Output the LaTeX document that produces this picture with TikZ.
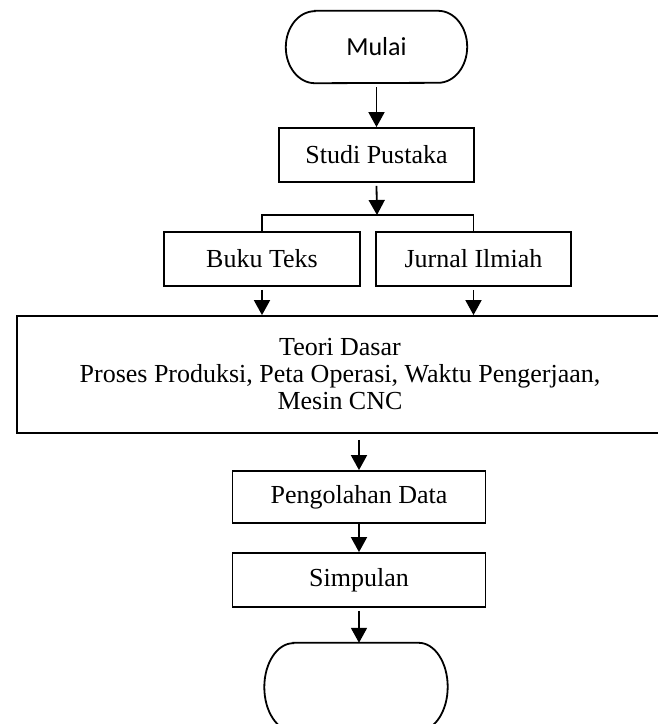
\documentclass[tikz,border=0pt]{standalone}
\usepackage{fontspec}
\setmainfont{Liberation Serif}
\newfontfamily\calib{Carlito}
\usetikzlibrary{arrows.meta}
\begin{document}
\begin{tikzpicture}[x=1pt,y=-1pt,
  txt/.style={inner sep=0pt, align=center, font=\fontsize{26}{27}\selectfont},
  box/.style={txt, draw, line width=1.8pt},
  term/.style={inner sep=0pt, font=\calib\fontsize{26}{27}\selectfont},
  ln/.style={line width=1.8pt},
  arr/.style={line width=1.8pt, -{Triangle[length=15pt,width=16pt]}}]
\clip (0,0) rectangle (658,724);
% nodes
\node[term, minimum width=181pt, minimum height=72pt] (mulai) at (376.5,47) {Mulai};
\node[box, minimum width=195pt, minimum height=54pt] (studi) at (376.5,155) {Studi Pustaka};
\node[box, minimum width=196pt, minimum height=54pt] (buku) at (262,259) {Buku Teks};
\node[box, minimum width=195pt, minimum height=54pt] (jurnal) at (473.5,259) {Jurnal Ilmiah};
\node[box, minimum width=646pt, minimum height=117pt] (teori) at (340,374.5) {Teori Dasar\\Proses Produksi, Peta Operasi, Waktu Pengerjaan,\\Mesin CNC};
\node[box, minimum width=253pt, minimum height=52pt] (peng) at (359,497) {Pengolahan Data};
\node[box, minimum width=253pt, minimum height=54pt] (simp) at (359,580) {Simpulan};
\node[term, minimum width=183pt, minimum height=88pt] (selesai) at (356,687) {};
\coordinate (split) at (377,215);
% terminator outlines
\draw[ln] ([xshift=29pt]mulai.north west) -- ([xshift=-29pt]mulai.north east)
  arc[start angle=90, end angle=-90, x radius=29pt, y radius=36pt]
  -- ([xshift=29pt]mulai.south west)
  arc[start angle=270, end angle=90, x radius=29pt, y radius=36pt] -- cycle;
\draw[ln] ([xshift=29pt]selesai.north west) -- ([xshift=-29pt]selesai.north east)
  arc[start angle=90, end angle=-90, x radius=29pt, y radius=44pt]
  -- ([xshift=29pt]selesai.south west)
  arc[start angle=270, end angle=90, x radius=29pt, y radius=44pt] -- cycle;
% connectors
\draw[arr] ([yshift=-4pt]mulai.south) -- (studi.north);
\draw[arr] ([yshift=-3pt]studi.south) -- (split);
\draw[ln] (buku.north) |- (jurnal.north |- split) -- (jurnal.north);
\draw[arr] ([yshift=-3pt]buku.south) -- (buku.south |- teori.north);
\draw[arr] ([yshift=-3pt]jurnal.south) -- (jurnal.south |- teori.north);
\draw[arr] ([yshift=-6pt]peng.north |- teori.south) -- (peng.north);
\draw[arr] (peng.south) -- (simp.north);
\draw[arr] ([yshift=-3pt]simp.south) -- (simp.south |- selesai.north);
\end{tikzpicture}
\end{document}
